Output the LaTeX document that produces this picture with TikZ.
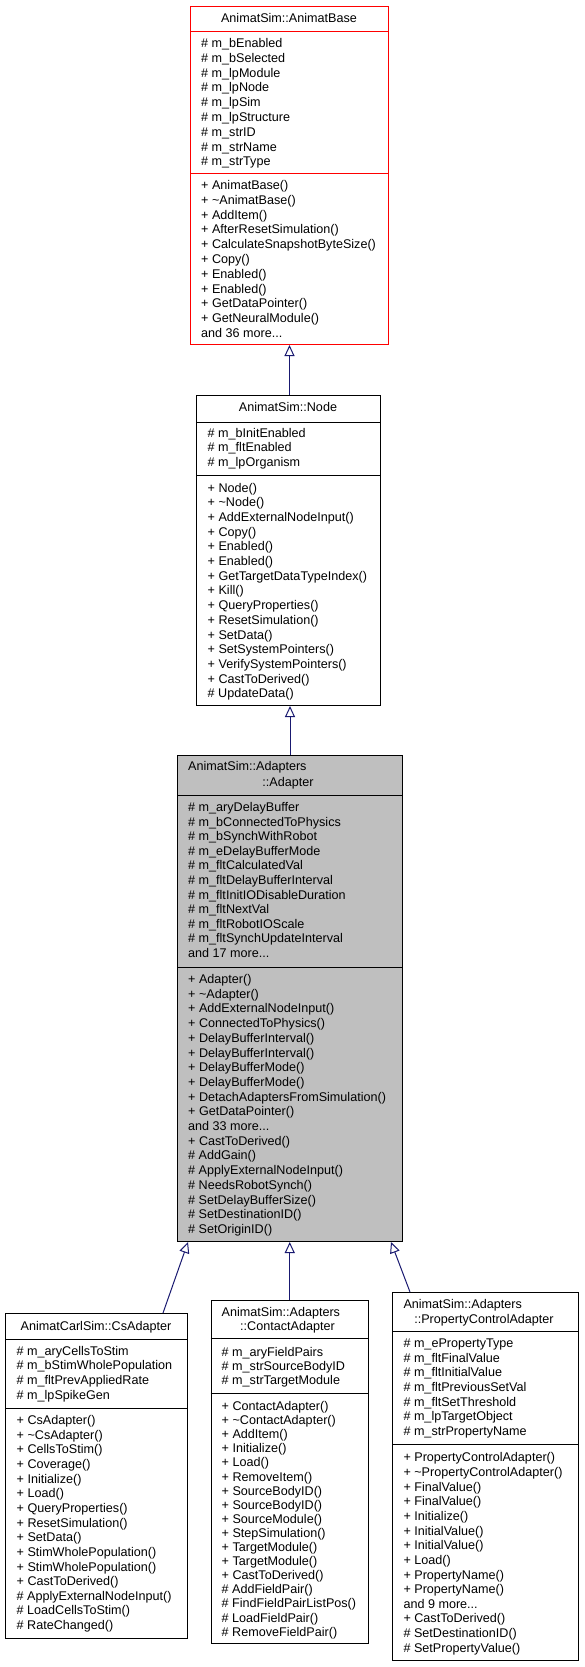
\documentclass[tikz,border=0pt]{standalone}
\usepackage{fontspec}
\setmainfont{Liberation Sans}
\usetikzlibrary{arrows.meta}
\definecolor{kekvonal}{HTML}{191970}
\definecolor{szurke}{HTML}{BFBFBF}
\newcommand{\betu}{\fontsize{12.6}{14.7}\selectfont}
\newcommand{\tovabb}[1]{and #1 more.{}.{}.}
\tikzset{
  osz/.style={draw,anchor=north west,inner sep=0pt,line width=1pt,fill=white},
  cim/.style={anchor=base,inner sep=0pt,font=\betu},
  tag/.style={anchor=base west,inner sep=0pt,font=\betu},
  elv/.style={line width=1pt},
  orok/.style={draw=kekvonal,line width=1pt,-{Triangle[open,length=11pt,width=10pt]}},
}

\begin{document}
\begin{tikzpicture}[x=1pt,y=-1pt]
  \useasboundingbox (0,0) rectangle (584,1667);
  % AnimatBase
  \node[osz,draw=red,minimum width=198,minimum height=338] (ab) at (190,6) {};
  \draw[elv,red] ([yshift=-26]ab.north west) -- ([yshift=-26]ab.north east);
  \draw[elv,red] ([yshift=-167]ab.north west) -- ([yshift=-167]ab.north east);
  \node[cim] (ab-c) at (289,23) {AnimatSim::AnimatBase};
  \foreach \t [count=\i from 0] in {\# m\_bEnabled,\# m\_bSelected,\# m\_lpModule,\# m\_lpNode,\# m\_lpSim,
      \# m\_lpStructure,\# m\_strID,\# m\_strName,\# m\_strType}
    \node[tag] (ab-a\i) at (201,{47.5+\i*14.8}) {\t};
  \foreach \t [count=\i from 0] in {+ AnimatBase(),+ \textasciitilde AnimatBase(),+ AddItem(),+ AfterResetSimulation(),
      + CalculateSnapshotByteSize(),+ Copy(),+ Enabled(),+ Enabled(),+ GetDataPointer(),+ GetNeuralModule(),\tovabb{36}}
    \node[tag] (ab-m\i) at (201,{189.5+\i*14.8}) {\t};

  % Node
  \node[osz,minimum width=184,minimum height=310] (nd) at (196,395) {};
  \draw[elv] ([yshift=-27]nd.north west) -- ([yshift=-27]nd.north east);
  \draw[elv] ([yshift=-80]nd.north west) -- ([yshift=-80]nd.north east);
  \node[cim] (nd-c) at (288,411.5) {AnimatSim::Node};
  \foreach \t [count=\i from 0] in {\# m\_bInitEnabled,\# m\_fltEnabled,\# m\_lpOrganism}
    \node[tag] (nd-a\i) at (207.5,{437+\i*14.8}) {\t};
  \foreach \t [count=\i from 0] in {+ Node(),+ \textasciitilde Node(),+ AddExternalNodeInput(),+ Copy(),+ Enabled(),
      + Enabled(),+ GetTargetDataTypeIndex(),+ Kill(),+ QueryProperties(),+ ResetSimulation(),+ SetData(),
      + SetSystemPointers(),+ VerifySystemPointers(),+ CastToDerived(),\# UpdateData()}
    \node[tag] (nd-m\i) at (207.5,{492+\i*14.7}) {\t};

  % Adapter
  \node[osz,fill=szurke,minimum width=225,minimum height=486] (ad) at (177,755) {};
  \draw[elv] ([yshift=-40]ad.north west) -- ([yshift=-40]ad.north east);
  \draw[elv] ([yshift=-212]ad.north west) -- ([yshift=-212]ad.north east);
  \node[tag] (ad-c1) at (188,770.5) {AnimatSim::Adapters};
  \node[cim] (ad-c2) at (288,786) {::Adapter};
  \foreach \t [count=\i from 0] in {\# m\_aryDelayBuffer,\# m\_bConnectedToPhysics,\# m\_bSynchWithRobot,
      \# m\_eDelayBufferMode,\# m\_fltCalculatedVal,\# m\_fltDelayBufferInterval,\# m\_fltInitIODisableDuration,
      \# m\_fltNextVal,\# m\_fltRobotIOScale,\# m\_fltSynchUpdateInterval,\tovabb{17}}
    \node[tag] (ad-a\i) at (188,{811.5+\i*14.6}) {\t};
  \foreach \t [count=\i from 0] in {+ Adapter(),+ \textasciitilde Adapter(),+ AddExternalNodeInput(),+ ConnectedToPhysics(),
      + DelayBufferInterval(),+ DelayBufferInterval(),+ DelayBufferMode(),+ DelayBufferMode(),
      + DetachAdaptersFromSimulation(),+ GetDataPointer(),\tovabb{33},+ CastToDerived(),\# AddGain(),
      \# ApplyExternalNodeInput(),\# NeedsRobotSynch(),\# SetDelayBufferSize(),\# SetDestinationID(),\# SetOriginID()}
    \node[tag] (ad-m\i) at (188,{983.5+\i*14.7}) {\t};

  % CsAdapter
  \node[osz,minimum width=182,minimum height=325] (cs) at (5,1313) {};
  \draw[elv] ([yshift=-26]cs.north west) -- ([yshift=-26]cs.north east);
  \draw[elv] ([yshift=-95]cs.north west) -- ([yshift=-95]cs.north east);
  \node[cim] (cs-c) at (96,1330.5) {AnimatCarlSim::CsAdapter};
  \foreach \t [count=\i from 0] in {\# m\_aryCellsToStim,\# m\_bStimWholePopulation,\# m\_fltPrevAppliedRate,\# m\_lpSpikeGen}
    \node[tag] (cs-a\i) at (16.5,{1355+\i*14.8}) {\t};
  \foreach \t [count=\i from 0] in {+ CsAdapter(),+ \textasciitilde CsAdapter(),+ CellsToStim(),+ Coverage(),+ Initialize(),
      + Load(),+ QueryProperties(),+ ResetSimulation(),+ SetData(),+ StimWholePopulation(),+ StimWholePopulation(),
      + CastToDerived(),\# ApplyExternalNodeInput(),\# LoadCellsToStim(),\# RateChanged()}
    \node[tag] (cs-m\i) at (16.5,{1424.5+\i*14.65}) {\t};

  % ContactAdapter
  \node[osz,minimum width=157.5,minimum height=343.5] (ca) at (210.5,1299.5) {};
  \draw[elv] ([yshift=-38.5]ca.north west) -- ([yshift=-38.5]ca.north east);
  \draw[elv] ([yshift=-93.5]ca.north west) -- ([yshift=-93.5]ca.north east);
  \node[tag] (ca-c1) at (221.5,1316.3) {AnimatSim::Adapters};
  \node[cim] (ca-c2) at (287.5,1330.3) {::ContactAdapter};
  \foreach \t [count=\i from 0] in {\# m\_aryFieldPairs,\# m\_strSourceBodyID,\# m\_strTargetModule}
    \node[tag] (ca-a\i) at (221.5,{1356+\i*14.1}) {\t};
  \foreach \t [count=\i from 0] in {+ ContactAdapter(),+ \textasciitilde ContactAdapter(),+ AddItem(),+ Initialize(),+ Load(),
      + RemoveItem(),+ SourceBodyID(),+ SourceBodyID(),+ SourceModule(),+ StepSimulation(),+ TargetModule(),
      + TargetModule(),+ CastToDerived(),\# AddFieldPair(),\# FindFieldPairListPos(),\# LoadFieldPair(),\# RemoveFieldPair()}
    \node[tag] (ca-m\i) at (221.5,{1410.5+\i*14.1}) {\t};

  % PropertyControlAdapter
  \node[osz,minimum width=186,minimum height=368] (pc) at (392,1292) {};
  \draw[elv] ([yshift=-39.5]pc.north west) -- ([yshift=-39.5]pc.north east);
  \draw[elv] ([yshift=-152]pc.north west) -- ([yshift=-152]pc.north east);
  \node[tag] (pc-c1) at (403.3,1308.5) {AnimatSim::Adapters};
  \node[cim] (pc-c2) at (484,1323.5) {::PropertyControlAdapter};
  \foreach \t [count=\i from 0] in {\# m\_ePropertyType,\# m\_fltFinalValue,\# m\_fltInitialValue,\# m\_fltPreviousSetVal,
      \# m\_fltSetThreshold,\# m\_lpTargetObject,\# m\_strPropertyName}
    \node[tag] (pc-a\i) at (403.3,{1347.8+\i*14.56}) {\t};
  \foreach \t [count=\i from 0] in {+ PropertyControlAdapter(),+ \textasciitilde PropertyControlAdapter(),+ FinalValue(),
      + FinalValue(),+ Initialize(),+ InitialValue(),+ InitialValue(),+ Load(),+ PropertyName(),+ PropertyName(),
      \tovabb{9},+ CastToDerived(),\# SetDestinationID(),\# SetPropertyValue()}
    \node[tag] (pc-m\i) at (403.3,{1461.8+\i*14.65}) {\t};

  % inheritance
  \draw[orok] (nd.north -| ab.south) -- (ab.south);
  \draw[orok] (ad.north) -- (ad.north |- nd.south);
  \draw[orok] ([xshift=-25]cs.north east) -- ([xshift=11]ad.south west);
  \draw[orok] (ca.north) -- (ca.north |- ad.south);
  \draw[orok] ([xshift=18]pc.north west) -- ([xshift=-12]ad.south east);
\end{tikzpicture}
\end{document}
